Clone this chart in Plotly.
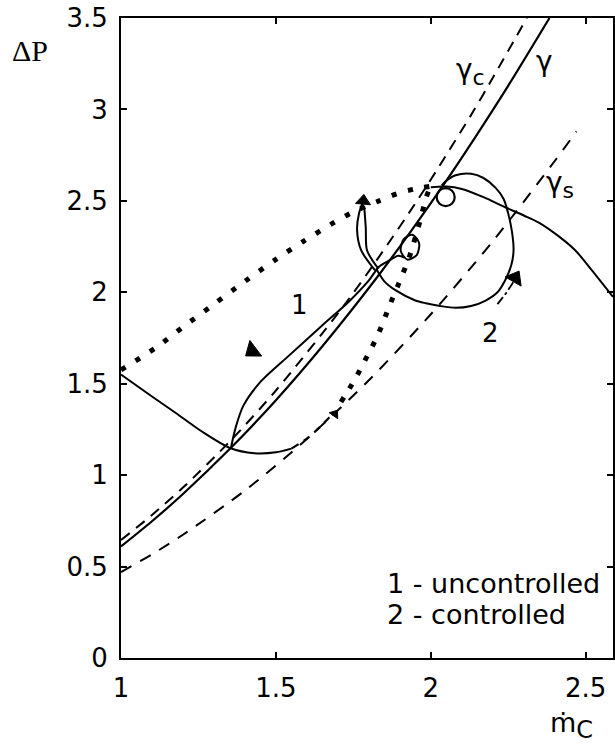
import plotly.graph_objects as go

# --- throttle lines ---------------------------------------------------------
gamma_x = [1.0, 1.1, 1.2, 1.354, 1.5, 1.65, 1.826, 1.935, 2.048, 2.15, 2.25, 2.383]
gamma_y = [0.61, 0.748, 0.897, 1.148, 1.41, 1.705, 2.081, 2.332, 2.605, 2.865, 3.13, 3.5]

gamma_c_x = [1.0, 1.1, 1.2, 1.35, 1.5, 1.71, 1.826, 1.95, 2.02, 2.13, 2.19, 2.31]
gamma_c_y = [0.645, 0.782, 0.932, 1.182, 1.463, 1.906, 2.177, 2.486, 2.67, 2.97, 3.143, 3.5]

gamma_s_x = [1.0, 1.1, 1.2, 1.4, 1.6, 1.8, 2.0, 2.2, 2.4, 2.47]
gamma_s_y = [0.47, 0.567, 0.674, 0.916, 1.198, 1.519, 1.88, 2.279, 2.718, 2.88]

# --- compressor characteristic ---------------------------------------------
char_left_x = [1.0, 1.1, 1.177, 1.26, 1.354, 1.43, 1.5, 1.55]
char_left_y = [1.55, 1.43, 1.34, 1.24, 1.147, 1.12, 1.125, 1.145]

char_mid_x = [1.55, 1.6, 1.64, 1.68]
char_mid_y = [1.145, 1.2, 1.26, 1.33]

char_rise_x = [1.71, 1.736, 1.762, 1.785, 1.81, 1.84, 1.865, 1.897, 1.93, 1.95, 1.97, 1.985, 2.0]
char_rise_y = [1.40, 1.47, 1.546, 1.62, 1.70, 1.81, 1.92, 2.05, 2.19, 2.30, 2.42, 2.52, 2.58]

char_right_x = [2.0, 2.05, 2.1, 2.17, 2.24, 2.3, 2.35, 2.41, 2.466, 2.52, 2.588]
char_right_y = [2.575, 2.578, 2.565, 2.52, 2.465, 2.42, 2.38, 2.31, 2.23, 2.12, 1.975]

# --- trajectory 1 (uncontrolled) --------------------------------------------
surge_x = [1.0, 1.115, 1.2, 1.3, 1.4, 1.5, 1.59, 1.676, 1.75, 1.833, 1.9, 1.948, 2.0]
surge_y = [1.575, 1.70, 1.81, 1.935, 2.06, 2.18, 2.28, 2.37, 2.44, 2.50, 2.545, 2.565, 2.58]

small_loop_x = [1.94, 1.962, 1.955, 1.925, 1.903, 1.912, 1.94]
small_loop_y = [2.315, 2.27, 2.205, 2.178, 2.225, 2.29, 2.315]

lens_top_x = [1.915, 1.895, 1.862, 1.833, 1.80, 1.736, 1.65, 1.543, 1.45, 1.395, 1.37, 1.355]
lens_top_y = [2.19, 2.2, 2.17, 2.14, 2.065, 1.95, 1.82, 1.655, 1.51, 1.38, 1.26, 1.15]

lobe_left_x = [1.82, 1.775, 1.762, 1.768, 1.78]
lobe_left_y = [2.12, 2.23, 2.34, 2.43, 2.49]
lobe_right_x = [1.83, 1.794, 1.79, 1.785]
lobe_right_y = [2.13, 2.23, 2.355, 2.47]

# --- trajectory 2 (controlled) ----------------------------------------------
loop_x = [1.823, 1.85, 1.887, 1.95, 1.984, 2.03, 2.08, 2.13, 2.177, 2.215, 2.24, 2.26,
          2.267, 2.262, 2.25, 2.235, 2.21, 2.17, 2.13, 2.08, 2.05, 2.035]
loop_y = [2.13, 2.06, 2.01, 1.955, 1.94, 1.925, 1.915, 1.925, 1.955, 2.0, 2.066, 2.15,
          2.23, 2.33, 2.43, 2.51, 2.57, 2.625, 2.648, 2.64, 2.61, 2.585]

cycle_center = (2.048, 2.52)

tail2_x = [2.215, 2.245, 2.268]
tail2_y = [1.935, 2.0, 2.06]

# direction arrows: x, y, heading (deg, clockwise from up)
arrow_x = [1.424, 1.782, 2.272, 1.69]
arrow_y = [1.68, 2.50, 2.078, 1.335]
arrow_angle = [233, 5, 30, 35]
arrow_size = [17, 13, 16, 9]

fig = go.Figure()


def line(x, y, dash="solid", width=2.0, shape="spline"):
    fig.add_trace(go.Scatter(x=x, y=y, mode="lines",
                             line=dict(color="black", width=width, dash=dash,
                                       shape=shape, smoothing=0.8),
                             hoverinfo="skip", showlegend=False))


line(gamma_x, gamma_y, width=2.2)
line(gamma_c_x, gamma_c_y, dash="11px,8px", width=2.0)
line(gamma_s_x, gamma_s_y, dash="12px,10px", width=2.0)

line(char_left_x, char_left_y, width=2.0)
line(char_mid_x, char_mid_y, dash="8px,6px", width=2.2)
line(char_rise_x, char_rise_y, dash="5px,11px", width=5)
line(char_right_x, char_right_y, width=2.0)

line(surge_x, surge_y, dash="5px,12px", width=5)
line(small_loop_x, small_loop_y, width=2.0)
line(lens_top_x, lens_top_y, width=2.0)
line(lobe_left_x, lobe_left_y, width=2.0)
line(lobe_right_x, lobe_right_y, width=2.0)
line(loop_x, loop_y, width=2.0)
line(tail2_x, tail2_y, dash="dashdot", width=1.8, shape="linear")

fig.add_trace(go.Scatter(x=[cycle_center[0]], y=[cycle_center[1]], mode="markers",
                         marker=dict(symbol="circle-open", size=18, color="black", opacity=1,
                                     line=dict(color="black", width=2.2)),
                         hoverinfo="skip", showlegend=False))

fig.add_trace(go.Scatter(x=arrow_x, y=arrow_y, mode="markers",
                         marker=dict(symbol="triangle-up", size=arrow_size, angle=arrow_angle,
                                     color="black", opacity=1,
                                     line=dict(color="black", width=1)),
                         hoverinfo="skip", showlegend=False))

SANS = "DejaVu Sans"
SERIF = "Liberation Serif"

annotations = [
    dict(x=1.575, y=1.93, text="1", font=dict(family=SANS, size=26)),
    dict(x=2.192, y=1.78, text="2", font=dict(family=SANS, size=26)),
    dict(x=2.128, y=3.205,
         text="γ<sub><span style='font-size:22px'>c</span></sub>",
         font=dict(family=SANS, size=28)),
    dict(x=2.368, y=3.26, text="γ", font=dict(family=SANS, size=28)),
    dict(x=2.417, y=2.587,
         text="γ<sub><span style='font-size:22px'>s</span></sub>",
         font=dict(family=SANS, size=28)),
    dict(x=1.851, y=0.405, text="1 - uncontrolled", xanchor="left",
         font=dict(family=SANS, size=27)),
    dict(x=1.851, y=0.24, text="2 - controlled", xanchor="left",
         font=dict(family=SANS, size=27)),
    dict(xref="paper", yref="paper", x=-0.225, y=0.978, xanchor="left", text="ΔP",
         font=dict(family=SERIF, size=30)),
    dict(xref="paper", yref="paper", x=0.868, y=-0.074, xanchor="left", yanchor="top",
         text="ṁ<sub><span style='font-size:24px'>C</span></sub>",
         font=dict(family=SANS, size=27)),
]
for a in annotations:
    a.setdefault("showarrow", False)
    a["font"]["color"] = "black"
fig.update_layout(annotations=annotations)

axis_common = dict(showgrid=False, zeroline=False, showline=True, linecolor="black",
                   linewidth=2, mirror="ticks", ticks="inside", ticklen=6, tickwidth=1.5,
                   tickcolor="black", tickfont=dict(family=SANS, size=26, color="black"))

fig.update_xaxes(range=[1, 2.588], tickvals=[1, 1.5, 2, 2.5],
                 ticktext=["1", "1.5", "2", "2.5"], ticklabelstandoff=6, **axis_common)
fig.update_yaxes(range=[0, 3.5], tickvals=[0, 0.5, 1, 1.5, 2, 2.5, 3, 3.5],
                 ticktext=["0", "0.5", "1", "1.5", "2", "2.5", "3", "3.5"],
                 ticklabelstandoff=6, **axis_common)

fig.update_layout(width=615, height=750, margin=dict(l=121, r=0, t=18, b=92),
                  plot_bgcolor="white", paper_bgcolor="white")

fig.write_html("out.html")
